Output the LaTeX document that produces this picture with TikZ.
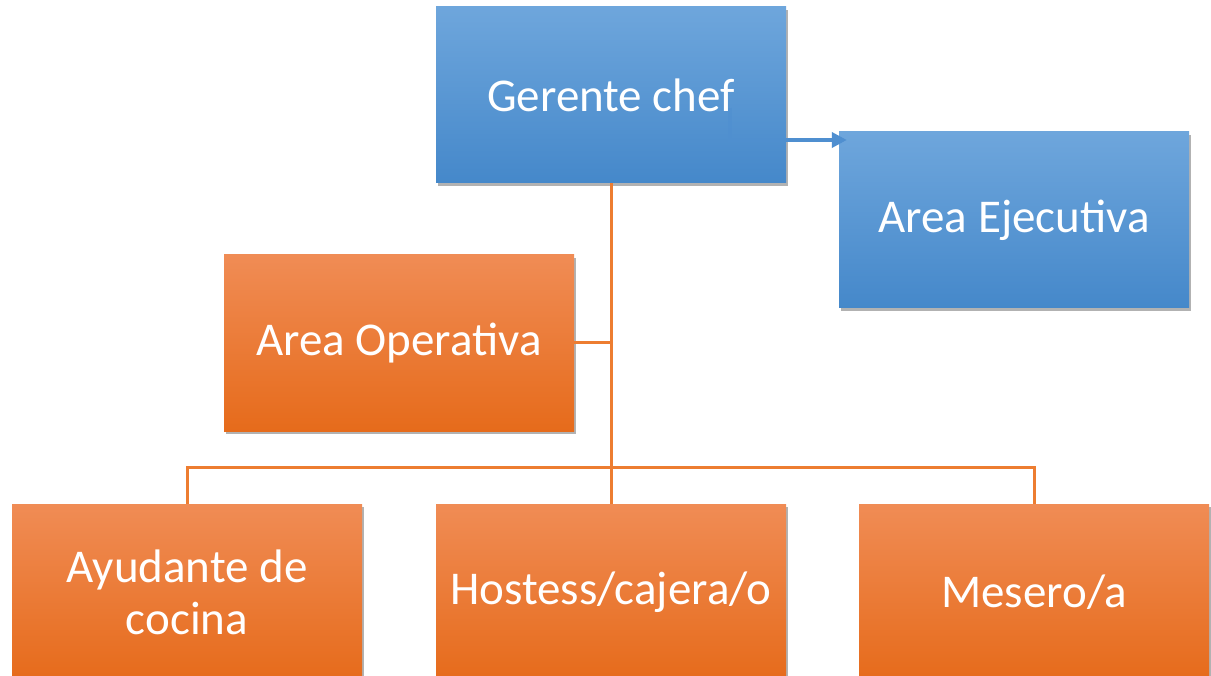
\documentclass[tikz,border=0pt]{standalone}
\usepackage{fontspec}
\setmainfont{Carlito}
\usetikzlibrary{shadows,arrows.meta}
\definecolor{otop}{HTML}{F08C55}
\definecolor{obot}{HTML}{E66B1B}
\definecolor{btop}{HTML}{6EA6DC}
\definecolor{bbot}{HTML}{4588CA}
\definecolor{oline}{HTML}{ED7D31}
\definecolor{bline}{HTML}{4F8FD0}
\begin{document}
\begin{tikzpicture}[x=1pt,y=-1pt,
  box/.style={rectangle, minimum width=350pt, minimum height=176pt, inner sep=0pt,
    text=white, font=\fontsize{47}{52}\selectfont, align=center,
    drop shadow={shadow xshift=2pt, shadow yshift=-3pt, opacity=0.3, fill=black}},
  obox/.style={box, top color=otop, bottom color=obot},
  bbox/.style={box, top color=btop, bottom color=bbot},
  conn/.style={draw=oline, line width=3pt},
  barrow/.style={draw=bline, line width=3.6pt, -{Triangle[length=15pt,width=15pt]}}]
\useasboundingbox (0,0) rectangle (1211,676);
\clip (0,0) rectangle (1211,676);
\fill[white] (0,0) rectangle (1211,676);
\coordinate (bus) at (611,467);
\node[obox] (ao) at (399,343) {Area Operativa};
\node[bbox] (ae) at (1014,220) {Area Ejecutiva};
\node[obox] (ay) at (187,592) {Ayudante de\\cocina};
\node[obox] (hs) at (611,592) {Hostess/cajera/o};
\node[obox] (me) at (1034,592) {Mesero/a};
\node[bbox] (gc) at (611,95) {Gerente chef};
\draw[conn] (gc.south) -- (hs.north);
\draw[conn] (ay.north) -- (ay.north |- bus) -- (me.north |- bus) -- (me.north);
\draw[conn] (ao.east) -- (ao.east -| gc.south);
\coordinate (a0) at (730,108);
\coordinate (a1) at (730,140);
\draw[draw=bline, line width=3.6pt, draw opacity=0.5] (a0) -- (a1) -- (a1 -| gc.east);
\draw[barrow] (a1 -| gc.east) -- ([xshift=8pt]a1 -| ae.west);
\end{tikzpicture}
\end{document}
